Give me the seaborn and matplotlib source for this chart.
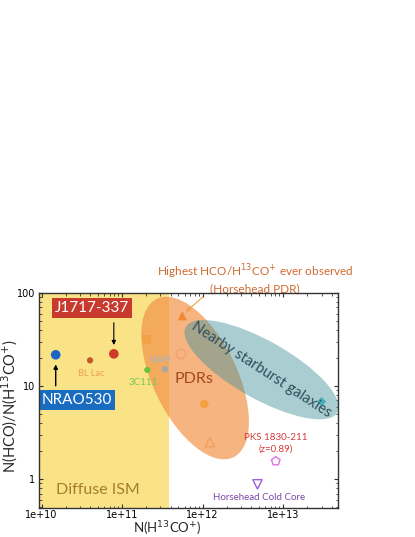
import numpy as np
import pandas as pd
import matplotlib
matplotlib.use("Agg")
import matplotlib.pyplot as plt
import seaborn as sns
from matplotlib.patches import Ellipse
from matplotlib.transforms import ScaledTranslation

# ---------------- data ----------------
src_names = ["NRAO530", "BL Lac", "J1717-337", "3C111", "W49",
             "PDR square", "PDR open circle", "Horsehead PDR", "PDR circle",
             "PDR open triangle", "Starburst", "PKS 1830-211", "Horsehead Cold Core"]
src_x = [1.5e10, 4.0e10, 7.9e10, 2.06e11, 3.4e11,
         2.0e11, 5.4e11, 5.6e11, 1.05e12,
         1.23e12, 3.0e13, 8.1e12, 4.8e12]
src_y = [21.7, 18.9, 22.2, 14.9, 15.2,
         31.8, 22.0, 57.0, 6.4,
         2.5, 6.8, 1.56, 0.88]
src_marker = ["o", "o", "o", "o", "o",
              "s", "o", "^", "o",
              "^", "D", "p", "v"]
src_color = ["#1E64C8", "#C05A28", "#D03A2A", "#6CC040", "#A8A8A8",
             "#F2C040", "#F5A070", "#F08838", "#F5A040",
             "#F0A060", "#40C8C8", "#E070E8", "#9A60D8"]
src_filled = [True, True, True, True, True,
              True, False, True, True,
              False, True, False, False]
src_size = [48, 20, 48, 20, 22,
            40, 45, 45, 38,
            45, 22, 42, 45]
src_z = [5, 5, 5, 5, 5, 1, 5, 5, 5, 5, 1, 5, 5]

x_ticks = [1e10, 1e11, 1e12, 1e13]
x_ticklabels = ["1e+10", "1e+11", "1e+12", "1e+13"]
y_ticks = [1, 10, 100]
y_ticklabels = ["1", "10", "100"]

diffuse_limit = 3.8e11

df = pd.DataFrame({"name": src_names, "x": src_x, "y": src_y})

# ---------------- figure ----------------
sns.set_theme(style="ticks")
plt.rcParams["font.family"] = ["DejaVu Sans"]
fig = plt.figure(figsize=(4.15, 5.37), dpi=100)
ax = fig.add_axes([39 / 415, 1 - 508 / 537, (338 - 39) / 415, (508 - 293) / 537])
ax.set_xscale("log")
ax.set_yscale("log")
ax.set_xlim(9.3e9, 4.8e13)
ax.set_ylim(0.49, 100)

# diffuse ISM region
ax.axvspan(9.3e9, diffuse_limit, color="#F5C90F", alpha=0.5, lw=0, zorder=0)

# points
for i, r in df.iterrows():
    if src_filled[i]:
        sns.scatterplot(x=[r.x], y=[r.y], ax=ax, marker=src_marker[i], s=src_size[i],
                        color=src_color[i], edgecolor="none", zorder=src_z[i], legend=False)
    else:
        sns.scatterplot(x=[r.x], y=[r.y], ax=ax, marker=src_marker[i], s=src_size[i],
                        facecolor="none", edgecolor=src_color[i], linewidth=1.0,
                        zorder=src_z[i], legend=False)

# ellipses (sizes in inches, centered on data points)
def add_ellipse(cx, cy, w, h, ang, color, alpha, z):
    tr = fig.dpi_scale_trans + ScaledTranslation(cx, cy, ax.transData)
    e = Ellipse((0, 0), w, h, angle=ang, transform=tr, facecolor=color,
                alpha=alpha, edgecolor="none", zorder=z)
    e.set_clip_path(ax.patch)
    ax.add_patch(e)

add_ellipse(8.07e11, 12.2, 1.76, 0.84, -64.2, "#F1944A", 0.7, 2)
add_ellipse(5.4e12, 15.0, 1.74, 0.58, -29.4, "#46929D", 0.46, 3)

ann = ["Lato", "DejaVu Sans"]

# labels
ax.text(4.12e10, 13.8, "BL Lac", color="#F0A050", fontsize=6.5, ha="center", va="center", family=ann, zorder=6)
ax.text(2.97e11, 18.7, "W49", color="#A0B4CC", fontsize=7, ha="center", va="center", family=ann, zorder=6)
ax.text(1.84e11, 10.8, "3C111", color="#78C850", fontsize=7, ha="center", va="center", family=ann, zorder=6)
ax.text(7.7e11, 11.8, "PDRs", color="#A44A1E", fontsize=11.5, ha="center", va="center", family=ann, zorder=6)
ax.text(5.4e12, 15.0, "Nearby starburst galaxies", color="#2D4F5A", fontsize=10.5,
        ha="center", va="center", rotation=-33, rotation_mode="anchor", family=ann, zorder=6)
ax.text(8.1e12, 2.41, "PKS 1830-211\n(z=0.89)", color="#D83A3A", fontsize=7, ha="center",
        va="center", linespacing=1.4, family=ann, zorder=6)
ax.text(5.04e12, 0.635, "Horsehead Cold Core", color="#7A48A8", fontsize=7, ha="center",
        va="center", family=ann, zorder=6)
ax.text(5.0e10, 0.762, "Diffuse ISM", color="#A57D2E", fontsize=11.5, ha="center",
        va="center", family=ann, zorder=6)

ax.text(4.49e12, 145, "Highest HCO/H$^{13}$CO$^{+}$ ever observed\n(Horsehead PDR)",
        color="#D06A30", fontsize=8.5, ha="center", va="center", linespacing=1.25,
        family=ann, clip_on=False, zorder=6)
ax.annotate("", xy=(5.85e11, 60), xytext=(1.07e12, 95),
            arrowprops=dict(arrowstyle="-|>", color="#F0A050", lw=0.8, mutation_scale=6),
            annotation_clip=False, zorder=6)

# boxed labels
ax.text(4.24e10, 69, "J1717-337", color="white", fontsize=11, ha="center", va="center",
        family=ann, zorder=7,
        bbox=dict(boxstyle="square,pad=0.18", facecolor="#C83A2E", edgecolor="none"))
ax.annotate("", xy=(7.9e10, 25.8), xytext=(7.9e10, 51.3),
            arrowprops=dict(arrowstyle="-|>", color="black", lw=0.8, mutation_scale=6), zorder=6)
ax.text(2.76e10, 7.06, "NRAO530", color="white", fontsize=11, ha="center", va="center",
        family=ann, zorder=7,
        bbox=dict(boxstyle="square,pad=0.18", facecolor="#1A6CC0", edgecolor="none"))
ax.annotate("", xy=(1.5e10, 18.3), xytext=(1.5e10, 9.4),
            arrowprops=dict(arrowstyle="-|>", color="black", lw=1.0, mutation_scale=6), zorder=6)

# axes styling
ax.set_xticks(x_ticks)
ax.set_xticklabels(x_ticklabels)
ax.set_yticks(y_ticks)
ax.set_yticklabels(y_ticklabels)
ax.tick_params(which="both", direction="in", top=True, right=True, labelsize=7,
               colors="#333333", labelcolor="black", pad=2.5)
ax.tick_params(axis="x", which="both", pad=1.2)
ax.tick_params(which="major", length=3, width=0.8)
ax.tick_params(which="minor", length=1.8, width=0.6)
for s in ax.spines.values():
    s.set_color("#333333")
    s.set_linewidth(1.0)
    s.set_zorder(10)

ax.set_xlabel("N(H$^{13}$CO$^{+}$)", fontsize=9.5, family=ann)
ax.set_ylabel("N(HCO)/N(H$^{13}$CO$^{+}$)", fontsize=10.5, family=ann)
ax.xaxis.set_label_coords(0.43, -0.054)
ax.yaxis.set_label_coords(-0.062, 0.474)

fig.savefig("out.png", dpi=100)
